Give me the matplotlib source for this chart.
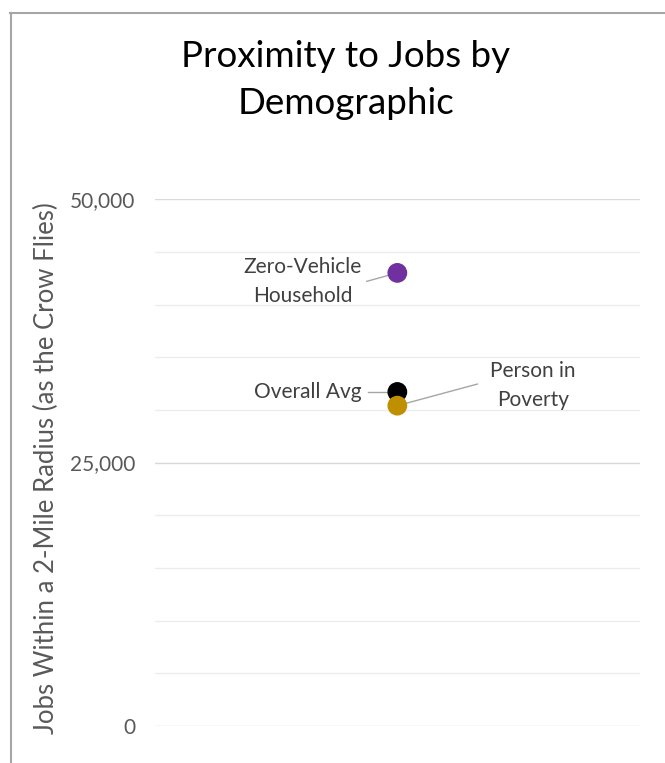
import matplotlib.pyplot as plt
from matplotlib.lines import Line2D

# 資料
groups = ["Zero-Vehicle\nHousehold", "Overall Avg", "Person in\nPoverty"]
jobs = [43000, 31700, 30400]
colors = ["#7030A0", "#000000", "#BF8F00"]
# 標籤位置 (x 偏移, y 值) 與對齊方式
label_x = [-0.39, -0.37, 0.56]
label_y = [42150, 31700, 32300]
line_end_x = [-0.126, -0.12, 0.33]
line_end_y = [42200, 31700, 32450]

yticks = [0, 25000, 50000]
minor_ticks = list(range(0, 50001, 5000))

plt.rcParams['font.family'] = ['Lato', 'DejaVu Sans']

fig = plt.figure(figsize=(6.65, 7.63), dpi=100)
ax = fig.add_axes([0.233, 0.0485, 0.729, 0.6905])

ax.set_xlim(-1, 1)
ax.set_ylim(0, 50000)

# 格線
for v in minor_ticks:
    c = "#d9d9d9" if v in yticks else "#ececec"
    ax.axhline(v, color=c, lw=1.0, zorder=0)

ax.scatter([0] * len(jobs), jobs, s=175, c=colors, zorder=3, clip_on=False)

for i, g in enumerate(groups):
    ax.plot([line_end_x[i], 0], [line_end_y[i], jobs[i]],
            color="#a6a6a6", lw=1.0, zorder=2)
    ax.text(label_x[i], label_y[i], g, ha="center", va="center",
            fontsize=15, color="#404040", linespacing=1.55)

ax.set_yticks(yticks)
ax.set_yticklabels([f"{v:,}" for v in yticks])
ax.set_xticks([])
ax.tick_params(axis="y", length=0, pad=14, labelsize=15, labelcolor="#595959")
for s in ax.spines.values():
    s.set_visible(False)

ax.set_ylabel("Jobs Within a 2-Mile Radius (as the Crow Flies)",
              fontsize=18.5, color="#595959")
ax.yaxis.set_label_coords(-0.197, 0.49)

fig.text(0.52, 0.895, "Proximity to Jobs by\nDemographic", ha="center",
         va="center", fontsize=26.5, color="#000000", linespacing=1.5)

# 外框
fig.add_artist(Line2D([0.015, 1.0], [0.983, 0.983], color="#a6a6a6", lw=1.5))
fig.add_artist(Line2D([0.0165, 0.0165], [0.0, 0.983], color="#a6a6a6", lw=1.5))

fig.savefig("out.png", dpi=100)
